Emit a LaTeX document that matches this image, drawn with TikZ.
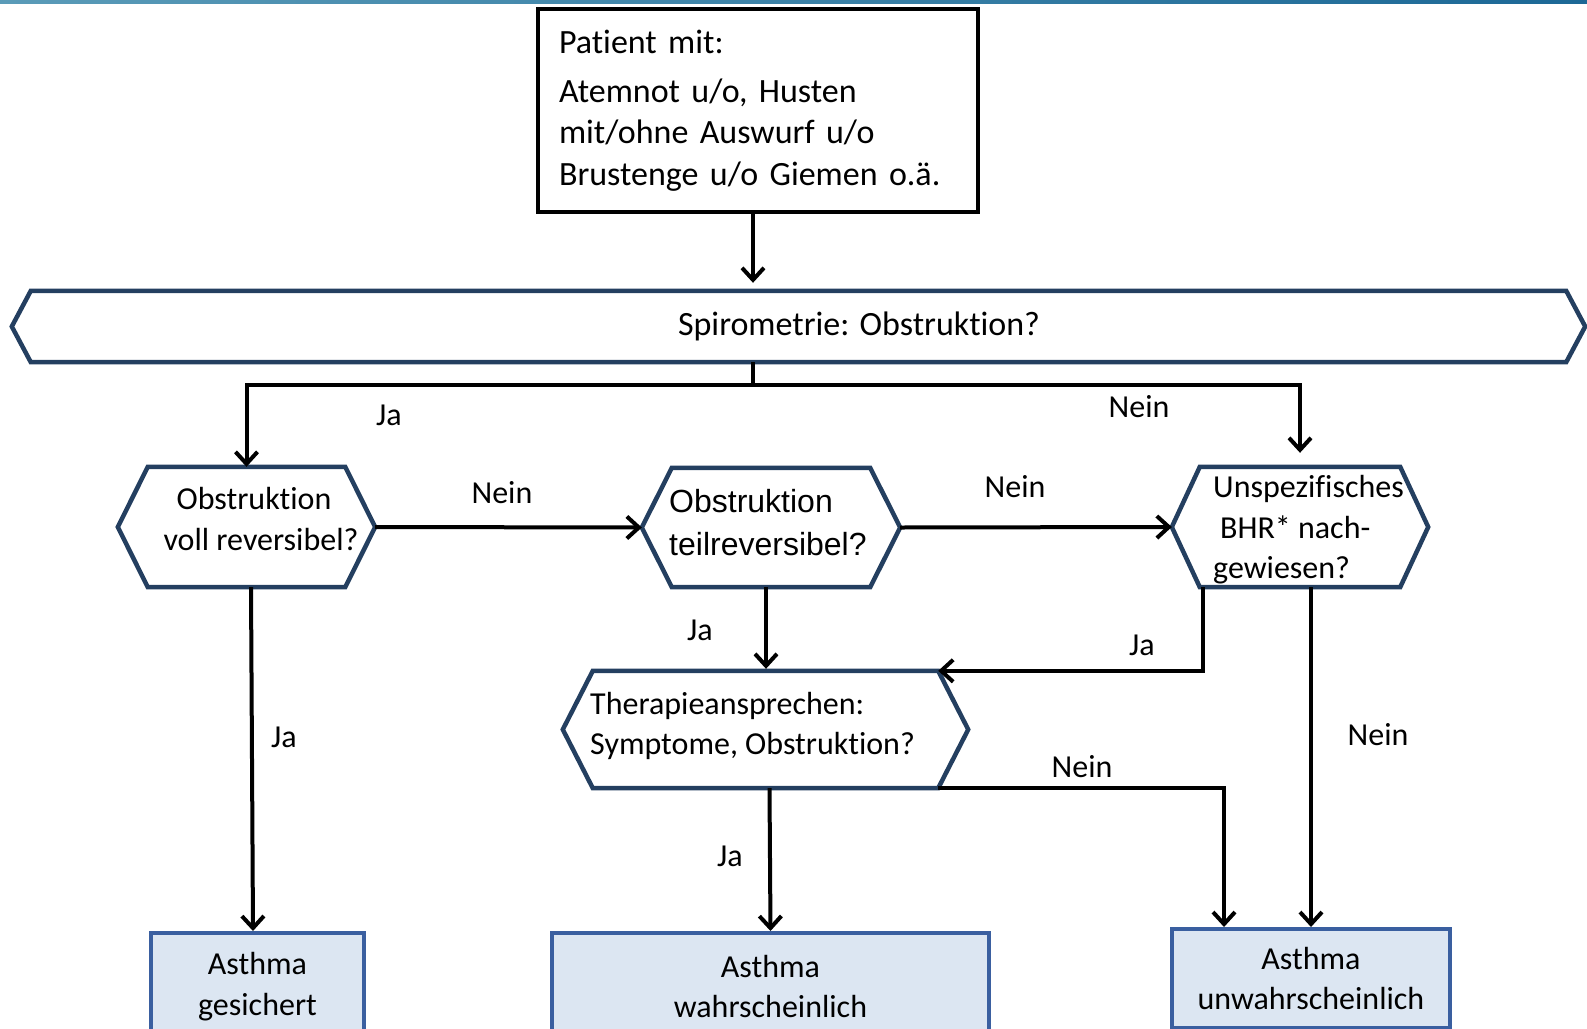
\documentclass[tikz,border=0pt]{standalone}
\usepackage{fontspec}
\setmainfont{Carlito}[Ligatures=NoCommon, RawFeature={-liga;-clig;-calt;-dlig}]
\newfontfamily\arialfont{Liberation Sans}
\usetikzlibrary{arrows.meta}
\definecolor{hexblue}{HTML}{243F60}
\definecolor{boxblue}{HTML}{3A5FA0}
\definecolor{boxfill}{HTML}{DCE6F2}
\definecolor{stripleft}{HTML}{5A9BB8}
\definecolor{stripright}{HTML}{1C6896}

\begin{document}
\begin{tikzpicture}[x=1pt,y=-1pt,
                every node/.style={font=\fontsize{32}{40.5}\selectfont},
                hexbox/.style={inner sep=0pt},
                hexline/.style={draw=hexblue, line width=4.5pt},
                endbox/.style={draw=boxblue, fill=boxfill, line width=4pt, inner sep=0pt, align=center},
                conn/.style={line width=4pt},
                arr/.style={line width=4pt, -{Straight Barb[length=12pt,width=22pt]}},
                lbl/.style={inner sep=0pt}]
            \useasboundingbox (0,0) rectangle (1587,1028);
            \clip (0,0) rectangle (1587,1028);
            \shade[left color=stripleft, right color=stripright] (0,0) rectangle (1587,3.5);

            % start
            \node[draw, line width=4pt, minimum width=440, minimum height=203,
                  inner xsep=21pt, text width=398pt, align=left,
                  font=\fontsize{34}{41.5}\selectfont] (patient) at (758,110.5)
                {Patient mit:\\[7pt]
                 Atemnot u/o, Husten\\
                 mit/ohne Auswurf u/o\\
                 Brustenge u/o Giemen o.ä.};

            % decisions
            \node[hexbox, minimum width=1573, minimum height=71] (spiro) at (798.5,326.5) {};
            \node[hexbox, minimum width=257, minimum height=120] (full) at (246.5,527) {};
            \node[hexbox, minimum width=258, minimum height=119] (part) at (771,527.5) {};
            \node[hexbox, minimum width=256, minimum height=120] (bhr) at (1300,527) {};
            \node[hexbox, minimum width=405, minimum height=117] (thera) at (765.5,729.5) {};
            \foreach \n/\d in {spiro/19, full/30, part/30, bhr/28, thera/30}
                \draw[hexline] (\n.west) -- ([xshift=\d pt]\n.north west) -- ([xshift=-\d pt]\n.north east)
                    -- (\n.east) -- ([xshift=-\d pt]\n.south east) -- ([xshift=\d pt]\n.south west) -- cycle;

            \node[lbl, font=\fontsize{34}{41.5}\selectfont] (spirotext) at (859,326) {Spirometrie: Obstruktion?};
            \node[lbl, align=center] (fulltext) at (254,519) {Obstruktion\\\hspace*{14pt}voll reversibel?};
            \node[lbl, align=left, anchor=west, font=\arialfont\fontsize{32}{43}\selectfont] (parttext) at (669,523)
                {Obstruktion\\teilreversibel?};
            \node[lbl, align=left, anchor=west] (bhrtext) at (1213,530)
                {Unspezifisches\\\hspace*{7pt}BHR* nach-\\gewiesen?};
            \node[lbl, align=left, anchor=west] (theratext) at (590,726)
                {Therapieansprechen:\\Symptome, Obstruktion?};

            % results
            \node[endbox, minimum width=213, minimum height=107] (box1) at (257.5,986.5) {Asthma\\gesichert};
            \node[endbox, minimum width=437, minimum height=107] (box2) at (770.5,986.5) {Asthma\\wahrscheinlich};
            \node[endbox, minimum width=278, minimum height=99] (box3) at (1311,978.5) {Asthma\\unwahrscheinlich};

            % connectors
            \coordinate (split) at (753,385);
            \draw[arr, shorten >=8pt] ([xshift=-5pt]patient.south) -- ([xshift=-5pt]patient.south |- spiro.north);
            \draw[conn] (split |- spiro.south) -- (split);
            \draw[arr] (split) -| (full.north);
            \draw[arr, shorten >=14pt] (split) -| (bhr.north);
            \draw[arr] (full.east) -- (part.west);
            \draw[arr] (part.east) -- (bhr.west);
            \draw[arr, shorten >=2pt] ([xshift=-5pt]part.south) -- ([xshift=-5pt]part.south |- thera.north);
            \draw[arr] ([xshift=-97pt]bhr.south) |- ([xshift=-30pt]thera.north east);
            \draw[arr] (bhr.south -| box3.north) -- (box3.north);
            \draw[arr] ([xshift=4.5pt]full.south) -- ([xshift=-4.5pt]box1.north);
            \draw[arr] ([xshift=4pt]thera.south) -- (box2.north);
            \draw[arr] ([xshift=-30pt]thera.south east) -| ([xshift=-87pt]box3.north);

            % branch labels
            \node[lbl] (jaspiro) at (389,415) {Ja};
            \node[lbl] (neinspiro) at (1139,407) {Nein};
            \node[lbl] (neinfull) at (502,493) {Nein};
            \node[lbl] (neinpart) at (1015,487) {Nein};
            \node[lbl] (japart) at (700,630) {Ja};
            \node[lbl] (jabhr) at (1142,645) {Ja};
            \node[lbl] (neinbhr) at (1378,735) {Nein};
            \node[lbl] (jafull) at (284,737) {Ja};
            \node[lbl] (jathera) at (730,856) {Ja};
            \node[lbl] (neinthera) at (1082,767) {Nein};
        \end{tikzpicture}
\end{document}
